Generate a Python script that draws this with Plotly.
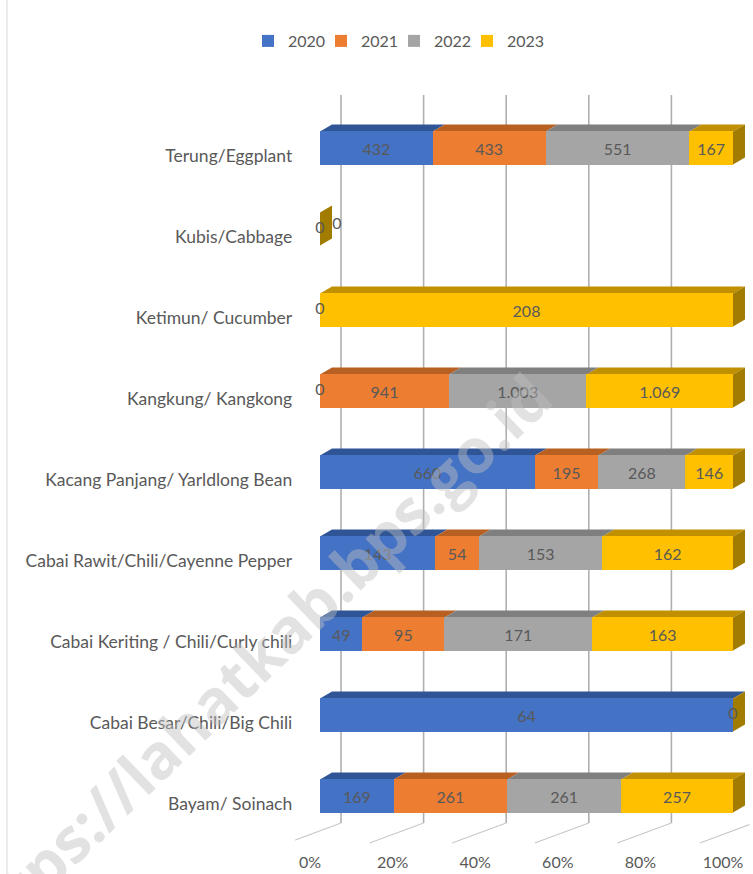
import plotly.graph_objects as go

# ---------------- data ----------------
categories = [
    "Bayam/ Soinach",
    "Cabai Besar/Chili/Big Chili",
    "Cabai Keriting / Chili/Curly chili",
    "Cabai Rawit/Chili/Cayenne Pepper",
    "Kacang Panjang/ Yarldlong Bean",
    "Kangkung/ Kangkong",
    "Ketimun/ Cucumber",
    "Kubis/Cabbage",
    "Terung/Eggplant",
]
years = ["2020", "2021", "2022", "2023"]
v2020 = [169, 64, 49, 143, 660, 0, 0, 0, 432]
v2021 = [261, None, 95, 54, 195, 941, None, None, 433]
v2022 = [261, None, 171, 153, 268, 1003, None, None, 551]
v2023 = [257, 0, 163, 162, 146, 1069, 208, 0, 167]
tick_vals = [0, 0.2, 0.4, 0.6, 0.8, 1.0]
tick_text = ["0%", "20%", "40%", "60%", "80%", "100%"]

series = [v2020, v2021, v2022, v2023]
front_colors = ["#4472C4", "#ED7D31", "#A5A5A5", "#FFC000"]
top_colors = ["#2F5597", "#B85F22", "#7F7F7F", "#C09000"]
side_color = "#A27C00"
txt_color = "#595959"
FONT = "Lato"

W, H = 753, 874
X0PX, X100PX = 320, 733
PXU = X100PX - X0PX
XMIN, XMAX = -0.06, 1.04
ypos = list(range(len(categories)))
HW = 0.204           # half bar thickness (category units)
DX = 12 / PXU        # depth offset in x (data units)
DY = 7 / 81          # depth offset in y (category units)


def fmt(v):
    return f"{v:,}".replace(",", ".")


# percentages
totals = [sum(s[i] for s in series if s[i] is not None) for i in ypos]
pcts = []
for s in series:
    pcts.append([None if s[i] is None else (s[i] / totals[i] if totals[i] else 0.0) for i in ypos])

fig = go.Figure()
for k, y in enumerate(years):
    texts = ["" if (v is None or v == 0) else fmt(v) for v in series[k]]
    fig.add_trace(go.Bar(
        name=y, orientation="h", y=ypos, x=pcts[k],
        marker=dict(color=front_colors[k], line=dict(width=0)),
        text=texts, textposition="inside", insidetextanchor="middle",
        textfont=dict(family=FONT, size=16, color=txt_color),
        hoverinfo="skip",
    ))
# blank legend spacer so the last legend label is not clipped
fig.add_trace(go.Bar(name=" ", orientation="h", y=[None], x=[None],
                     marker=dict(color="rgba(0,0,0,0)", line=dict(width=0, color="rgba(0,0,0,0)")),
                     hoverinfo="skip"))

# zero-value labels (zero-width bars)
zx, zy, zt = [], [], []
for i in ypos:
    cum = 0.0
    seen_zero = False
    for k in range(len(series)):
        v = series[k][i]
        if v is None:
            continue
        if v == 0:
            if seen_zero:
                zx.append(cum + 1.4 * DX)
                zy.append(i + 0.6 * DY)
            else:
                zx.append(cum)
                zy.append(i)
            zt.append("0")
            seen_zero = True
        cum += pcts[k][i]
fig.add_trace(go.Scatter(
    x=zx, y=zy, text=zt, mode="text", textposition="middle center",
    textfont=dict(family=FONT, size=16, color=txt_color),
    showlegend=False, hoverinfo="skip", cliponaxis=False,
))

shapes = []
# back-wall gridlines and floor lines
GOFF = 21 / PXU
for t in tick_vals:
    shapes.append(dict(type="line", xref="x", yref="paper", x0=t + GOFF, x1=t + GOFF,
                       y0=1 - 823 / H, y1=1 - 95 / H, line=dict(color="#B0B0B0", width=1.6),
                       layer="below"))
    shapes.append(dict(type="line", xref="x", yref="paper", x0=t + GOFF, x1=t - 0.08,
                       y0=1 - 823 / H, y1=1 - 843 / H, line=dict(color="#C8C8C8", width=1.2),
                       layer="below"))

# 3D top faces and right side faces
for i in ypos:
    cum = 0.0
    yt = i + HW
    yb = i - HW
    for k in range(len(series)):
        p = pcts[k][i]
        if p is None:
            continue
        if p > 0:
            x0, x1 = cum, cum + p
            shapes.append(dict(
                type="path", xref="x", yref="y", layer="below",
                path=f"M {x0},{yt} L {x1},{yt} L {x1 + DX},{yt + DY} L {x0 + DX},{yt + DY} Z",
                fillcolor=top_colors[k], line=dict(width=0)))
        cum += p
    xe = cum
    shapes.append(dict(
        type="path", xref="x", yref="y", layer="below",
        path=f"M {xe},{yb} L {xe},{yt} L {xe + DX},{yt + DY} L {xe + DX},{yb + DY} Z",
        fillcolor=side_color, line=dict(width=0)))

# chart-area left border
shapes.append(dict(type="line", xref="paper", yref="paper", x0=7 / W, x1=7 / W, y0=0, y1=1,
                   line=dict(color="#D9D9D9", width=1)))

xd0 = (X0PX + XMIN * PXU) / W
xd1 = (X0PX + XMAX * PXU) / W

fig.update_layout(
    width=W, height=H,
    margin=dict(l=0, r=0, t=0, b=0),
    paper_bgcolor="white", plot_bgcolor="white",
    barmode="stack", bargap=1 - 2 * HW,
    font=dict(family=FONT, color=txt_color, size=16),
    xaxis=dict(domain=[xd0, xd1], range=[XMIN, XMAX], showgrid=False, zeroline=False,
               showline=False, tickvals=tick_vals, ticktext=tick_text, automargin=False,
               ticklabelstandoff=14, ticklabelshift=-10,
               tickfont=dict(family=FONT, size=16, color=txt_color)),
    yaxis=dict(domain=[1 - 836.5 / H, 1 - 107.5 / H], range=[-0.5, len(categories) - 0.5],
               showgrid=False, zeroline=False, showline=False, automargin=False,
               tickvals=ypos, ticktext=categories, ticklabelstandoff=2, ticklabelshift=8,
               tickfont=dict(family=FONT, size=17.5, color=txt_color)),
    legend=dict(orientation="h", x=248 / W, xanchor="left", y=1 - 24 / H, yanchor="top",
                font=dict(family=FONT, size=16, color=txt_color), traceorder="normal",
                entrywidth=28, entrywidthmode="pixels", itemwidth=30),
    shapes=shapes,
    annotations=[dict(
        text="<b>https://lahatkab.bps.go.id</b>", xref="paper", yref="paper",
        x=250 / W, y=1 - 664 / H, xanchor="center", yanchor="middle",
        showarrow=False, textangle=-44,
        font=dict(family="Open Sans", size=62, color="rgba(190,190,190,0.45)"),
    )],
)

fig.write_html("out.html", config={"displayModeBar": False},
               post_script="document.body.style.margin='0';document.body.style.padding='0';")
